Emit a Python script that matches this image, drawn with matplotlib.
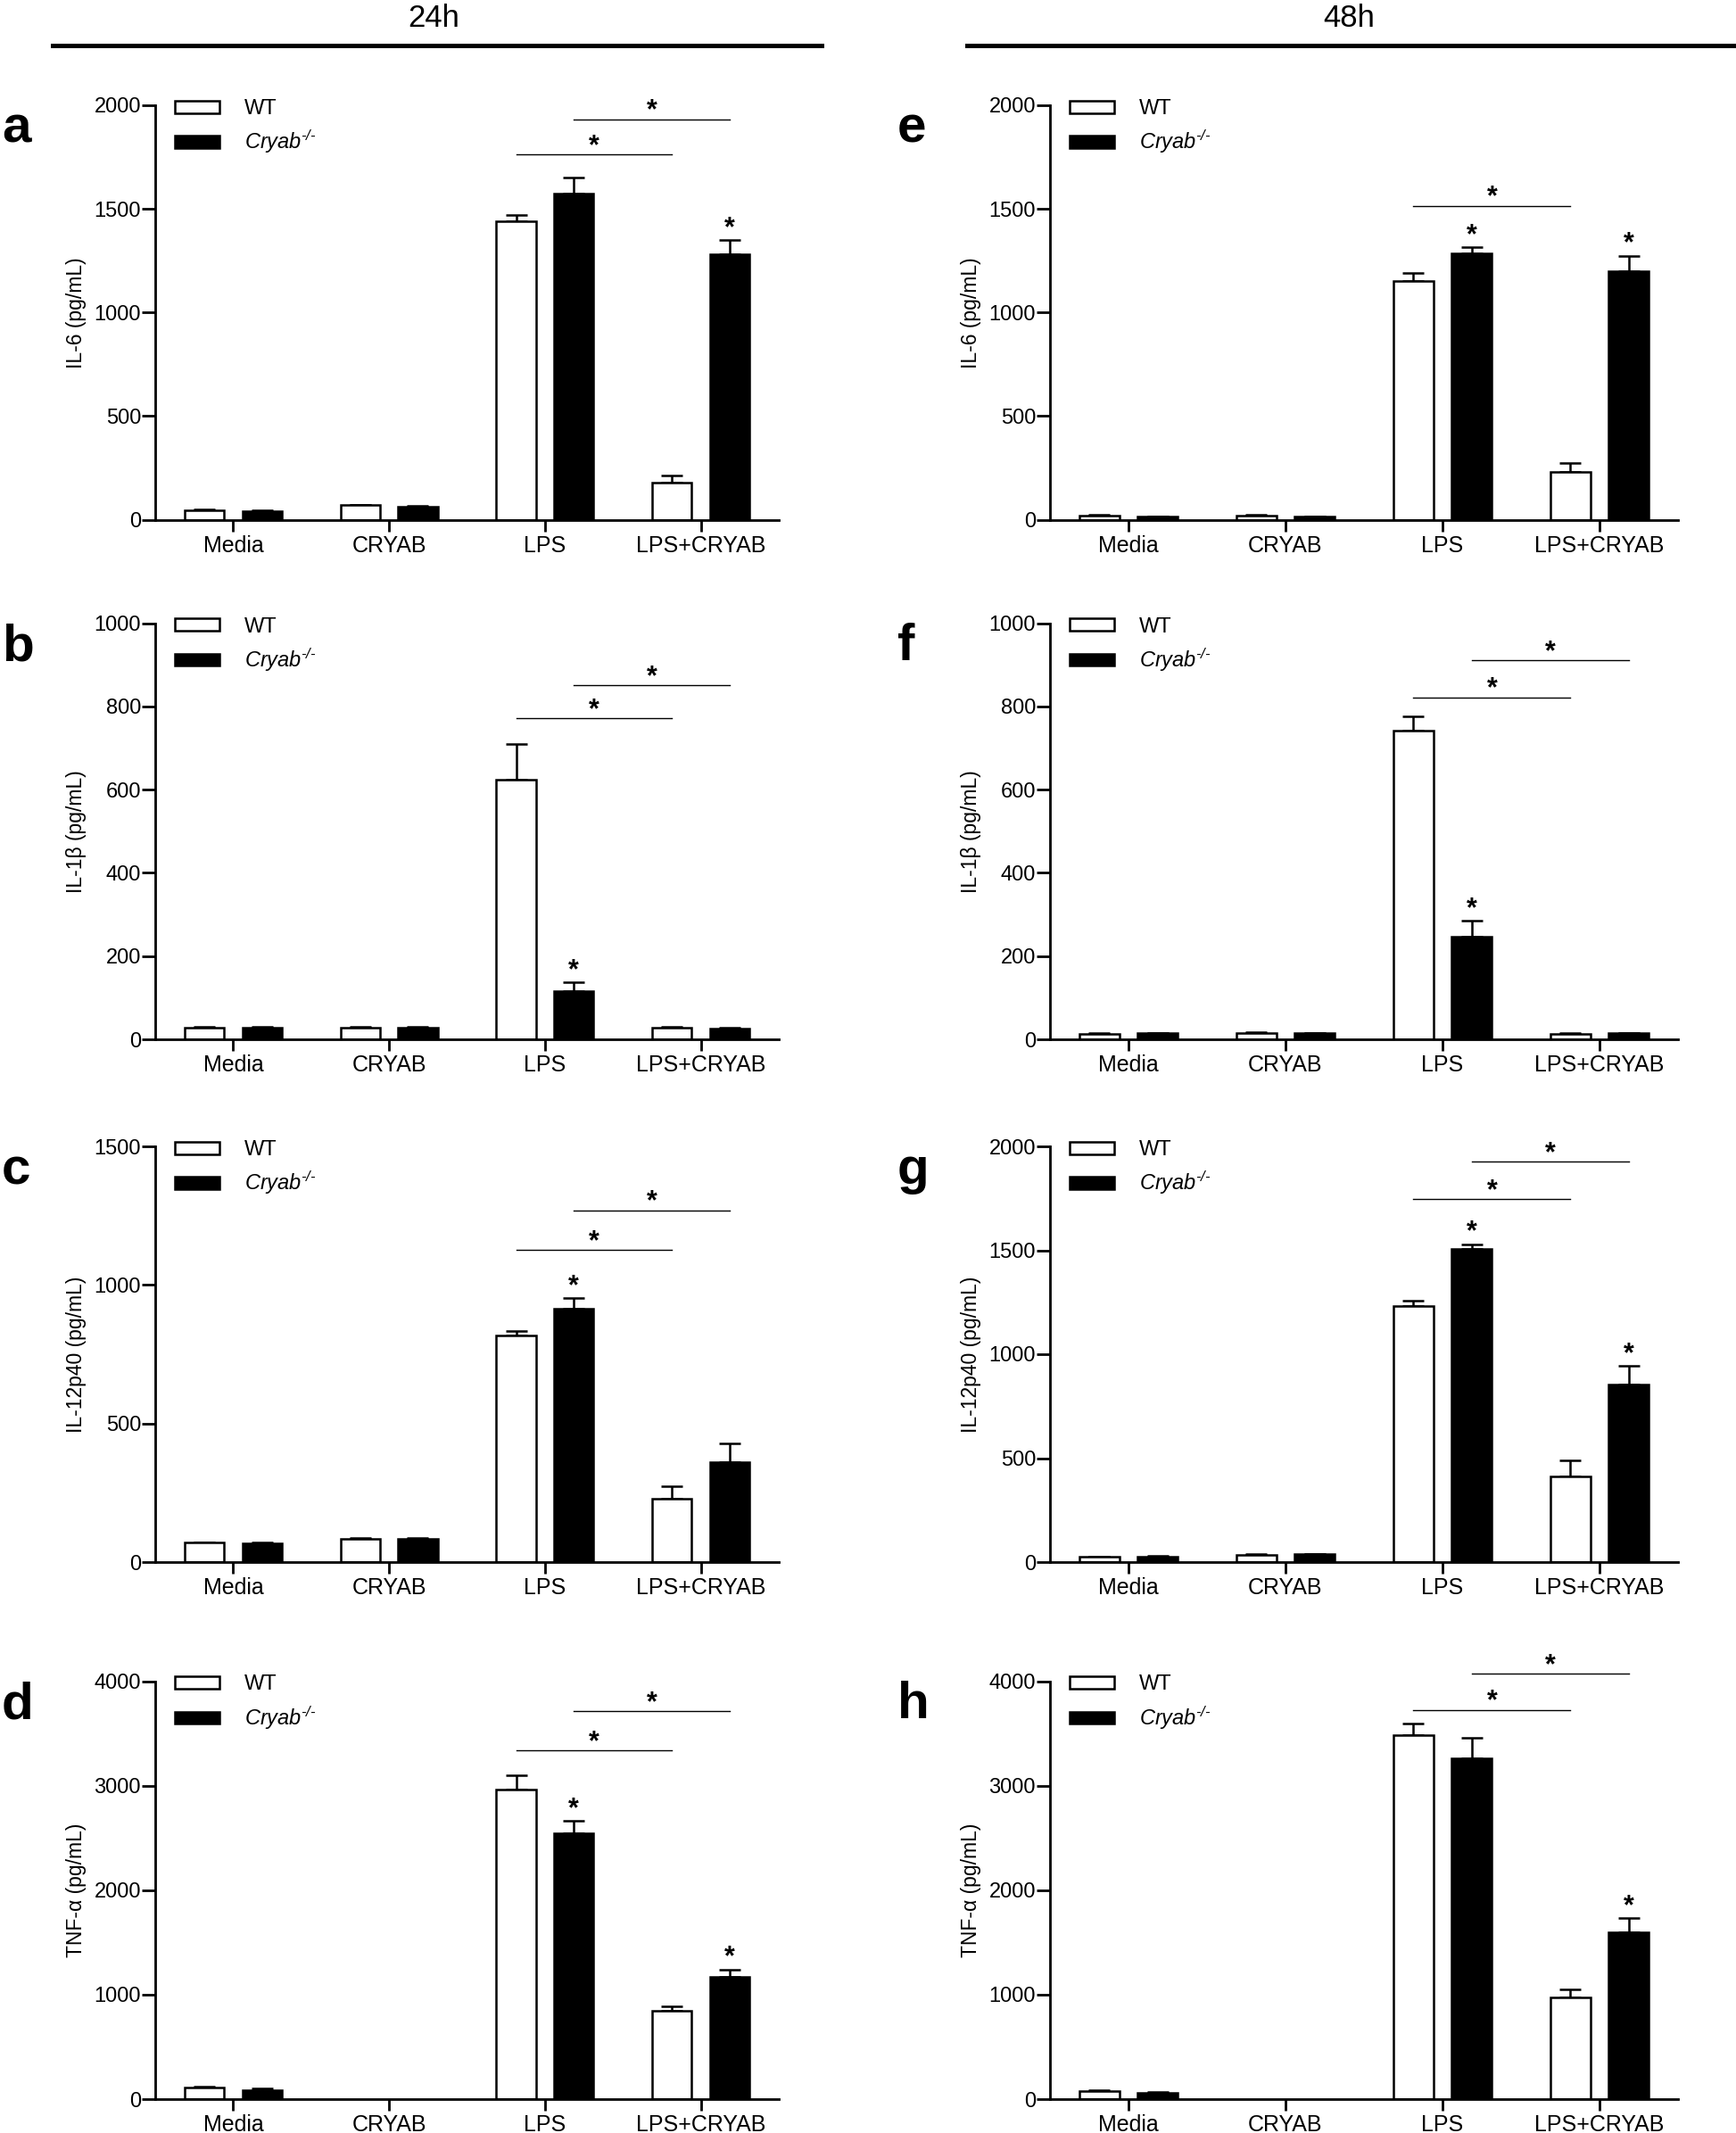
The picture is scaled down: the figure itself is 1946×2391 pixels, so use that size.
from matplotlib import pyplot as plt
from matplotlib.lines import Line2D
import numpy as np

plt.rcParams.update({
    'font.family': ['Liberation Sans', 'DejaVu Sans'],
    'mathtext.fontset': 'custom',
    'mathtext.rm': 'Liberation Sans:italic',
    'mathtext.it': 'Liberation Sans:italic',
})

categories = ['Media', 'CRYAB', 'LPS', 'LPS+CRYAB']
labels = ['WT', r'Cryab$^{\text{-/-}}$']

# 24h -- mean / SEM (pg/mL)
il6_24_wt,   il6_24_wt_err   = [46, 70, 1442, 177],   [4, 3, 29, 34]
il6_24_ko,   il6_24_ko_err   = [41, 63, 1575, 1282],  [3, 4, 76, 68]
il1b_24_wt,  il1b_24_wt_err  = [28, 28, 624, 28],     [2, 2, 86, 2]
il1b_24_ko,  il1b_24_ko_err  = [27, 28, 115, 26],     [2, 2, 22, 1]
il12_24_wt,  il12_24_wt_err  = [70, 85, 818, 229],    [2, 3, 16, 46]
il12_24_ko,  il12_24_ko_err  = [69, 85, 914, 359],    [3, 3, 39, 70]
tnf_24_wt,   tnf_24_wt_err   = [112, np.nan, 2964, 845],  [10, np.nan, 137, 44]
tnf_24_ko,   tnf_24_ko_err   = [87, np.nan, 2543, 1173],  [16, np.nan, 122, 69]

# 48h
il6_48_wt,   il6_48_wt_err   = [20, 20, 1150, 231],   [2, 2, 39, 44]
il6_48_ko,   il6_48_ko_err   = [15, 15, 1284, 1198],  [2, 2, 30, 76]
il1b_48_wt,  il1b_48_wt_err  = [13, 16, 741, 13],     [1, 1, 34, 1]
il1b_48_ko,  il1b_48_ko_err  = [14, 14, 247, 14],     [1, 1, 38, 1]
il12_48_wt,  il12_48_wt_err  = [24, 35, 1232, 410],   [2, 2, 27, 78]
il12_48_ko,  il12_48_ko_err  = [27, 37, 1505, 854],   [3, 3, 25, 90]
tnf_48_wt,   tnf_48_wt_err   = [77, np.nan, 3482, 977],   [5, np.nan, 109, 71]
tnf_48_ko,   tnf_48_ko_err   = [59, np.nan, 3265, 1597],  [8, np.nan, 192, 133]

# significance: brackets (group, y) and stars over KO bars (category index)
panels = [
  # letter, col, row, ylabel, ymax, step, wt, wt_err, ko, ko_err, brackets, ko_stars
  ('a', 0, 0, 'IL-6 (pg/mL)',     2000, 500,  il6_24_wt,  il6_24_wt_err,  il6_24_ko,  il6_24_ko_err,  [('wt', 1762), ('ko', 1932)], [3]),
  ('b', 0, 1, 'IL-1β (pg/mL)',    1000, 200,  il1b_24_wt, il1b_24_wt_err, il1b_24_ko, il1b_24_ko_err, [('wt', 772), ('ko', 851)],   [2]),
  ('c', 0, 2, 'IL-12p40 (pg/mL)', 1500, 500,  il12_24_wt, il12_24_wt_err, il12_24_ko, il12_24_ko_err, [('wt', 1126), ('ko', 1269)], [2]),
  ('d', 0, 3, 'TNF-α (pg/mL)',    4000, 1000, tnf_24_wt,  tnf_24_wt_err,  tnf_24_ko,  tnf_24_ko_err,  [('wt', 3339), ('ko', 3713)], [2, 3]),
  ('e', 1, 0, 'IL-6 (pg/mL)',     2000, 500,  il6_48_wt,  il6_48_wt_err,  il6_48_ko,  il6_48_ko_err,  [('wt', 1515)],               [2, 3]),
  ('f', 1, 1, 'IL-1β (pg/mL)',    1000, 200,  il1b_48_wt, il1b_48_wt_err, il1b_48_ko, il1b_48_ko_err, [('wt', 822), ('ko', 911)],   [2]),
  ('g', 1, 2, 'IL-12p40 (pg/mL)', 2000, 500,  il12_48_wt, il12_48_wt_err, il12_48_ko, il12_48_ko_err, [('wt', 1747), ('ko', 1927)], [2, 3]),
  ('h', 1, 3, 'TNF-α (pg/mL)',    4000, 1000, tnf_48_wt,  tnf_48_wt_err,  tnf_48_ko,  tnf_48_ko_err,  [('wt', 3724), ('ko', 4071)], [3]),
]

W, H = 1946, 2391
fig = plt.figure(figsize=(W / 100, H / 100), dpi=100)

col_x = [(174, 699), (1177, 704)]
row_y = [(118, 582.5), (698.5, 1165), (1285, 1751), (1884.5, 2353)]

x = np.arange(len(categories))
off, width = 0.185, 0.253
lw = 1.8

for letter, col, row, ylabel, ymax, step, wt, wt_err, ko, ko_err, brackets, ko_stars in panels:
  x0, w = col_x[col]
  top, bot = row_y[row]
  ax = fig.add_axes([x0 / W, 1 - bot / H, w / W, (bot - top) / H])

  b_wt = ax.bar(x - off, wt, width, color='white', edgecolor='black', linewidth=lw, zorder=2)
  b_ko = ax.bar(x + off, ko, width, color='black', edgecolor='black', linewidth=lw, zorder=2)
  for xs, m, e in ((x - off, wt, wt_err), (x + off, ko, ko_err)):
    e = np.asarray(e, dtype=float)
    ax.errorbar(xs, m, yerr=[np.zeros_like(e), e], fmt='none', ecolor='black',
                elinewidth=lw, capsize=8.4, capthick=lw, zorder=1)

  ax.set_xlim(-0.5, 3.5)
  ax.set_ylim(0, ymax)
  ax.set_yticks(np.arange(0, ymax + 1, step))
  ax.set_xticks(x)
  ax.set_xticklabels(categories)
  for s in ('top', 'right'):
    ax.spines[s].set_visible(False)
  for s in ('left', 'bottom'):
    ax.spines[s].set_linewidth(2.0)
  ax.tick_params(axis='y', direction='out', length=10.5, width=2.0, labelsize=17, pad=1)
  ax.tick_params(axis='x', direction='out', length=9.5, width=2.0, labelsize=18, pad=3)

  ax.set_ylabel(ylabel, fontsize=16.5)
  ax.yaxis.set_label_coords(-77 / w, 0.5)

  # brackets with stars
  for grp, yb in brackets:
    d = -off if grp == 'wt' else off
    x1, x2 = 2 + d, 3 + d
    ax.plot([x1, x2], [yb, yb], color='black', lw=1.0, clip_on=False)
    ax.annotate('*', xy=((x1 + x2) / 2, yb), xytext=(0, 0.8), textcoords='offset points',
                ha='center', va='baseline', fontsize=22, fontweight='bold', annotation_clip=False)
  for i in ko_stars:
    ax.annotate('*', xy=(i + off, ko[i] + ko_err[i]), xytext=(0, 3.6), textcoords='offset points',
                ha='center', va='baseline', fontsize=22, fontweight='bold', annotation_clip=False)

  leg = ax.legend([b_wt, b_ko], labels, loc='upper left', bbox_to_anchor=(21.7 / w, 1.015),
                  frameon=False, fontsize=17, handlelength=2.12, handleheight=0.525,
                  handletextpad=1.2, labelspacing=0.45, borderpad=0, borderaxespad=0)
  leg.get_texts()[1].set_style('italic')

  fig.text((2 if col == 0 else 1006) / W, 1 - (top + 42) / H, letter, fontsize=42,
           fontweight='bold', ha='left', va='baseline')

# time-point headers
fig.text(486 / W, 1 - 30 / H, '24h', fontsize=25, ha='center', va='baseline')
fig.text(1512 / W, 1 - 30 / H, '48h', fontsize=25, ha='center', va='baseline')
fig.add_artist(Line2D([59 / W, 921 / W], [1 - 51 / H] * 2, lw=3.6, color='black'))
fig.add_artist(Line2D([1084 / W, 1 - 0.5 / W], [1 - 51 / H] * 2, lw=3.6, color='black'))

fig.savefig('out.png', dpi=100)
